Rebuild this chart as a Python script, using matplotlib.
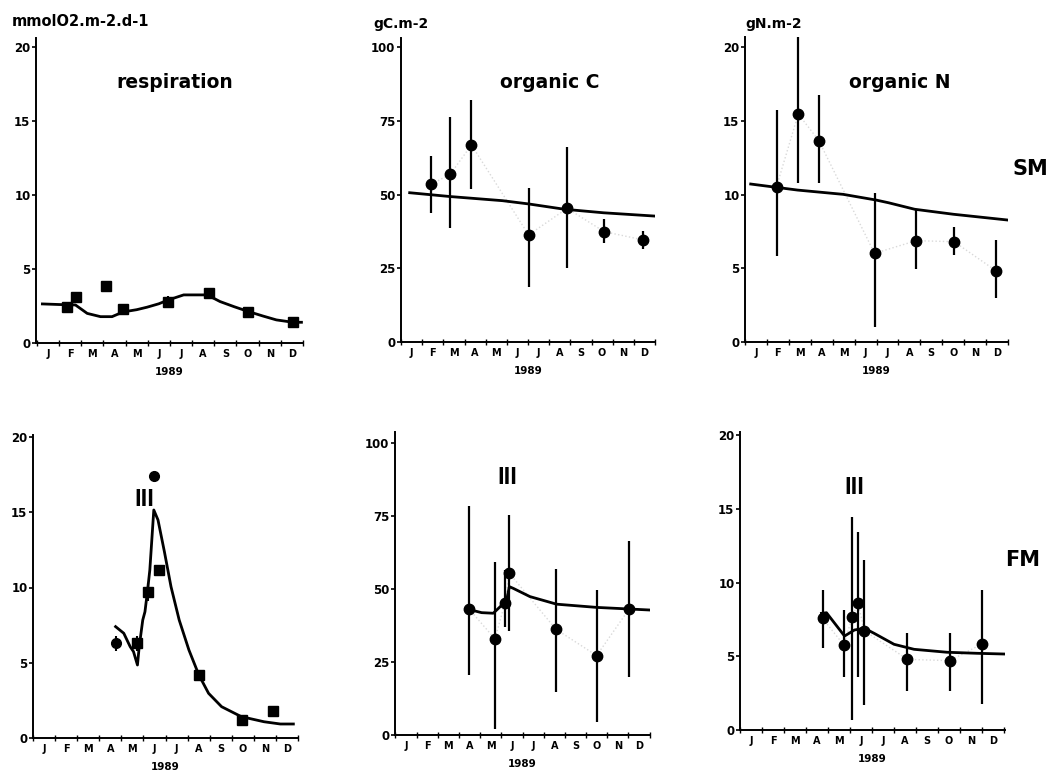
import matplotlib
matplotlib.use("Agg")
import matplotlib.pyplot as plt

plt.rcParams['font.family'] = ['DejaVu Sans']
plt.rcParams['font.weight'] = 'bold'

W, H = 1049, 772

months = ['J', 'F', 'M', 'A', 'M', 'J', 'J', 'A', 'S', 'O', 'N', 'D']
year = '1989'

# --- SM, respiration (mmolO2.m-2.d-1), month units: Jan 1 = 0
resp_sm_x = [1.38, 1.78, 3.11, 3.89, 5.91, 7.78, 9.53, 11.55]
resp_sm_y = [2.42, 3.14, 3.82, 2.28, 2.8, 3.41, 2.08, 1.44]
resp_sm_err = [0, 0, 0, 0, 0.4, 0, 0, 0]
resp_sm_mod_x = [0.25, 1.0, 1.74, 2.27, 2.87, 3.39, 3.89, 4.5, 4.97, 5.5, 5.91,
                 6.62, 7.68, 8.26, 8.9, 9.53, 10.2, 10.8, 11.55, 11.93]
resp_sm_mod_y = [2.64, 2.6, 2.57, 2.0, 1.78, 1.78, 2.1, 2.25, 2.42, 2.65, 2.9,
                 3.25, 3.25, 2.8, 2.45, 2.13, 1.82, 1.56, 1.4, 1.4]

# --- SM, organic C (gC.m-2)
orgc_sm_x = [1.44, 2.33, 3.33, 6.03, 7.85, 9.60, 11.45]
orgc_sm_y = [53.5, 56.9, 66.8, 36.3, 45.3, 37.4, 34.6]
orgc_sm_lo = [43.7, 38.5, 51.8, 18.8, 25.0, 33.7, 31.4]
orgc_sm_hi = [63.0, 76.2, 82.0, 52.1, 66.2, 41.6, 37.7]
orgc_sm_mod_x = [0.41, 2.33, 4.80, 6.03, 7.72, 9.57, 11.96]
orgc_sm_mod_y = [50.6, 49.3, 47.9, 46.8, 45.0, 43.8, 42.7]

# --- SM, organic N (gN.m-2)
orgn_sm_x = [1.44, 2.43, 3.37, 5.91, 7.81, 9.54, 11.44]
orgn_sm_y = [10.53, 15.46, 13.65, 6.01, 6.87, 6.80, 4.84]
orgn_sm_lo = [5.83, 10.76, 10.76, 1.04, 4.93, 5.90, 2.96]
orgn_sm_hi = [15.7, 20.7, 16.75, 10.08, 8.95, 7.82, 6.92]
orgn_sm_mod_x = [0.26, 2.4, 4.48, 5.96, 6.55, 7.74, 9.51, 11.98]
orgn_sm_mod_y = [10.71, 10.3, 10.01, 9.63, 9.44, 9.0, 8.66, 8.27]

# --- FM, respiration
resp_fm_x = [3.74, 4.73, 5.19, 5.47, 5.69, 7.51, 9.47, 10.88]
resp_fm_y = [6.29, 6.29, 9.68, 17.4, 11.16, 4.19, 1.2, 1.81]
resp_fm_err = [0.5, 0.5, 0.6, 0, 0, 0, 0, 0]
resp_fm_mark = ['o', 's', 's', 'o', 's', 's', 's', 's']
resp_fm_mod_x = [3.74, 4.11, 4.40, 4.55, 4.73, 4.81, 4.97, 5.07, 5.19, 5.29, 5.47,
                 5.66, 5.95, 6.25, 6.62, 7.06, 7.51, 7.95, 8.54, 9.43, 10.46,
                 11.2, 11.79]
resp_fm_mod_y = [7.40, 6.96, 6.07, 5.74, 4.85, 6.07, 7.84, 8.39, 9.83, 11.16, 15.15,
                 14.49, 12.38, 10.05, 7.84, 5.85, 4.19, 2.97, 2.08, 1.42, 1.08,
                 0.93, 0.93]

# --- FM, organic C
orgc_fm_x = [3.47, 4.70, 5.17, 5.38, 7.58, 9.50, 11.04]
orgc_fm_y = [43.2, 32.9, 45.2, 55.4, 36.2, 27.2, 43.2]
orgc_fm_lo = [20.5, 1.9, 36.9, 35.7, 14.8, 4.6, 19.8]
orgc_fm_hi = [78.4, 59.3, 56.5, 75.3, 56.7, 49.7, 66.5]
orgc_fm_mod_x = [3.47, 4.07, 4.62, 4.94, 5.25, 5.38, 5.57, 6.35, 7.61, 9.5, 12.02]
orgc_fm_mod_y = [43.0, 41.9, 41.7, 43.9, 46.2, 50.8, 50.2, 47.4, 44.8, 43.7, 42.8]

# --- FM, organic N
orgn_fm_x = [3.75, 4.72, 5.10, 5.36, 5.65, 7.61, 9.53, 10.99]
orgn_fm_y = [7.57, 5.76, 7.68, 8.59, 6.73, 4.79, 4.70, 5.83]
orgn_fm_lo = [5.54, 3.57, 0.68, 3.61, 1.69, 2.66, 2.66, 1.76]
orgn_fm_hi = [9.49, 8.14, 14.46, 13.44, 11.53, 6.6, 6.6, 9.49]
orgn_fm_mod_x = [3.7, 3.93, 4.75, 5.2, 5.65, 6.1, 7.0, 7.91, 9.41, 10.77, 12.04]
orgn_fm_mod_y = [7.91, 7.95, 6.37, 6.78, 6.9, 6.55, 5.81, 5.47, 5.27, 5.2, 5.15]


fig = plt.figure(figsize=(W / 100, H / 100), dpi=100)
fig.patch.set_facecolor('white')


def make_axes(x0, x1, jpx, dpx, y0, ymaxpix, ymax, ytop, step):
    """pixel layout -> axes; x in month units (label of month i at i + 0.5)"""
    sp = (dpx - jpx) / 11.0
    xl = 0.5 - (jpx - x0) / sp
    xr = xl + (x1 - x0) / sp
    ppu = (y0 - ymaxpix) / ymax
    yt = (y0 - ytop) / ppu
    ax = fig.add_axes([x0 / W, 1 - y0 / H, (x1 - x0) / W, (y0 - ytop) / H])
    ax.set_xlim(xl, xr)
    ax.set_ylim(0, yt)
    for s in ['top', 'right']:
        ax.spines[s].set_visible(False)
    for s in ['left', 'bottom']:
        ax.spines[s].set_linewidth(1.4)
    ax.set_yticks(range(0, ymax + 1, step))
    ax.set_yticklabels([str(v) for v in range(0, ymax + 1, step)], fontsize=8.5,
                       fontweight='bold')
    ax.tick_params(axis='y', direction='out', length=3, width=1.2, pad=1)
    ax.set_xticks([i + 0.5 for i in range(12)])
    ax.set_xticklabels(months, fontsize=7, fontweight='bold')
    ax.set_xticks(range(0, 13), minor=True)
    ax.tick_params(axis='x', which='major', length=0, pad=4)
    ax.tick_params(axis='x', which='minor', direction='inout', length=4, width=1.0)
    ax.set_xlabel(year, fontsize=7.5, fontweight='bold', labelpad=6)
    ax.patch.set_alpha(0)
    return ax


def txt(x, y, s, **kw):
    fig.text(x / W, 1 - y / H, s, **kw)


def err_panel(ax, x, y, lo, hi, mx, my):
    # faint dotted line through the observations, as in the original
    ax.plot(x, y, ':', color='#d9d9d9', lw=1.0, zorder=1)
    ax.vlines(x, lo, hi, color='black', lw=1.6, zorder=2)
    ax.plot(x, y, 'o', color='black', ms=7.5, zorder=3)
    ax.plot(mx, my, '-', color='black', lw=2.0, zorder=4)


# top row (SM)
ax1 = make_axes(36, 303, 48, 293, 343, 47, 20, 38, 5)
ax1.errorbar(resp_sm_x, resp_sm_y, yerr=resp_sm_err, fmt='s', color='black',
             ms=7, elinewidth=1.5, capsize=0, zorder=3)
ax1.plot(resp_sm_mod_x, resp_sm_mod_y, '-', color='black', lw=2.0, zorder=4)

ax2 = make_axes(401, 655, 407, 645, 342, 47, 100, 38, 25)
err_panel(ax2, orgc_sm_x, orgc_sm_y, orgc_sm_lo, orgc_sm_hi, orgc_sm_mod_x, orgc_sm_mod_y)

ax3 = make_axes(745, 1008, 750.5, 998, 342, 47, 20, 37, 5)
err_panel(ax3, orgn_sm_x, orgn_sm_y, orgn_sm_lo, orgn_sm_hi, orgn_sm_mod_x, orgn_sm_mod_y)

# bottom row (FM)
ax4 = make_axes(33, 298, 42, 290, 738, 437, 20, 435, 5)
for xi, yi, ei, mk in zip(resp_fm_x, resp_fm_y, resp_fm_err, resp_fm_mark):
    ax4.errorbar([xi], [yi], yerr=[ei], fmt=mk, color='black', ms=7,
                 elinewidth=1.5, capsize=0, zorder=3)
ax4.plot(resp_fm_mod_x, resp_fm_mod_y, '-', color='black', lw=2.0, zorder=4)

ax5 = make_axes(395, 650, 406, 639, 735, 443, 100, 432, 25)
err_panel(ax5, orgc_fm_x, orgc_fm_y, orgc_fm_lo, orgc_fm_hi, orgc_fm_mod_x, orgc_fm_mod_y)

ax6 = make_axes(740, 1005, 749, 993, 730, 435, 20, 432, 5)
err_panel(ax6, orgn_fm_x, orgn_fm_y, orgn_fm_lo, orgn_fm_hi, orgn_fm_mod_x, orgn_fm_mod_y)

# units, titles, site labels
txt(12, 22, 'mmolO2.m-2.d-1', fontsize=10.5, fontweight='bold', va='center')
txt(373, 24, 'gC.m-2', fontsize=10, fontweight='bold', va='center')
txt(745, 24, 'gN.m-2', fontsize=10, fontweight='bold', va='center')

txt(175, 82, 'respiration', fontsize=13.5, fontweight='bold', ha='center', va='center')
txt(550, 83, 'organic C', fontsize=13.5, fontweight='bold', ha='center', va='center')
txt(900, 83, 'organic N', fontsize=13.5, fontweight='bold', ha='center', va='center')

txt(1030, 169, 'SM', fontsize=15, fontweight='bold', ha='center', va='center')
txt(1023, 560, 'FM', fontsize=15, fontweight='bold', ha='center', va='center')

for px, py in [(144, 500), (507, 478), (854, 487)]:
    txt(px, py, 'III', family='Liberation Sans', fontsize=17, fontweight='bold',
        ha='center', va='center')

fig.savefig('out.png', dpi=100, facecolor='white')
